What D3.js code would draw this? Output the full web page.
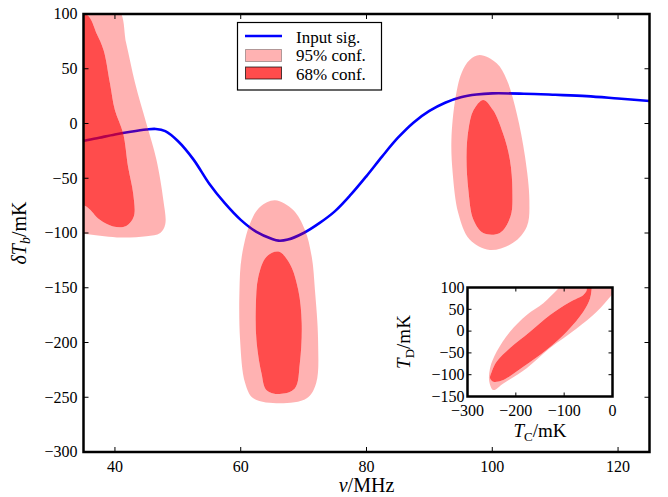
<!DOCTYPE html>
<html>
<head>
<meta charset="utf-8">
<script src="https://cdn.jsdelivr.net/npm/d3@7"></script>
<style>
  body { margin: 0; background: #fff; }
  text { font-family: "Liberation Serif", "DejaVu Serif", serif; fill: #000; }
</style>
</head>
<body>
<div id="chart"></div>
<script>
// input signal
const signalFreq = [33, 35, 37.5, 40, 42.5, 45, 46.5, 48, 50, 52.5, 55, 57.5, 60, 62.5, 65, 66, 67.5, 70, 72.5, 75,
                    77.5, 80, 82.5, 85, 87.5, 90, 92.5, 95, 97.5, 100, 105, 110, 115, 120, 125];
const signalTemp = [-19, -16, -13, -10, -7.5, -5.5, -5, -7, -16, -33, -55, -73, -88, -99, -105.5, -107, -106, -100, -91, -80,
                    -65, -48, -30, -13, 1, 11.5, 19, 24, 26.5, 27.5, 27.2, 26.2, 25, 22.8, 20.5];

// confidence regions in the main panel, [nu, dTb]
const low95 = [[33, 105], [40.4, 105], [41.8, 73], [43.2, 37], [45.0, 0], [46.6, -33], [47.7, -70], [48.0, -92],
               [47.2, -100], [45.0, -103], [40.3, -104], [35.2, -101], [33, -100]];
const low68 = [[33, 100], [35.6, 99], [37.1, 82], [38.2, 67], [39.2, 37], [40.0, 12], [41.3, -9], [42.1, -40],
               [42.9, -64], [43.0, -85], [41.8, -93.5], [39.7, -94], [37.6, -88], [35.5, -76], [33, -70]];
const mid95 = [[65.45, -70], [68.35, -79], [70.2, -97], [71.3, -122], [71.8, -152], [72.3, -198], [72.0, -237],
               [70.5, -251], [66.2, -255.5], [62.0, -251], [60.7, -237], [59.9, -198], [59.8, -152], [60.15, -122],
               [61.5, -91], [63.1, -76]];
const mid68 = [[66.0, -117], [67.8, -128], [69.15, -152], [69.7, -182], [69.4, -219], [68.6, -242], [66.2, -247],
               [64.1, -243.5], [63.3, -228], [62.5, -198], [62.4, -167], [62.8, -140], [64.1, -121.6]];
const high95 = [[98.0, 62.5], [100.7, 55], [102.3, 40], [103.9, 9], [105.2, -30], [105.9, -70], [105.5, -94],
                [103.3, -109], [99.6, -115.5], [96.4, -106], [94.6, -82], [93.7, -45], [93.5, -15], [94.1, 21.5],
                [95.1, 46], [96.4, 58]];
const high68 = [[98.56, 21.5], [100.15, 12], [101.7, -9], [102.8, -33], [103.2, -61], [102.9, -85], [101.2, -100],
                [98.56, -100], [97.0, -88], [96.2, -61], [95.9, -30], [96.2, -6], [97.0, 12]];

// inset: T_C vs T_D
const inset95 = [[-246.6, -135], [-225.9, -120], [-177.5, -85], [-129.3, -39], [-74.1, 6], [-32.7, 44.5], [-1.6, 83],
                 [26, 117], [-94, 117], [-115, 94], [-143.2, 64], [-177.5, 37], [-212.1, -1.4], [-239.6, -47],
                 [-253.4, -85], [-254.9, -116]];
const inset68 = [[-246.6, -116], [-225.9, -112], [-184.5, -82], [-136.1, -43], [-94.7, -1.4], [-60.4, 44.5],
                 [-46.5, 75], [-43.0, 98], [-41.4, 117], [-56.9, 117], [-53.4, 94], [-60.4, 83], [-87.9, 67],
                 [-129.3, 37], [-170.7, -1.4], [-212.1, -39], [-239.6, -70], [-249.9, -93], [-253.4, -108]];

const xTicks = [40, 60, 80, 100, 120];
const yTicks = [-300, -250, -200, -150, -100, -50, 0, 50, 100];
const insetXTicks = [-300, -200, -100, 0];
const insetYTicks = [-150, -100, -50, 0, 50, 100];

const legendItems = ["Input sig.", "95% conf.", "68% conf."];

const W = 668, H = 497;
const fmt = d => (d < 0 ? "\u2212" + Math.abs(d) : "" + d);

let svg = d3.select("#chart").append("svg")
    .attr("width", W)
    .attr("height", H);

let x = d3.scaleLinear().domain([35, 125]).range([83.5, 649.5]);
let y = d3.scaleLinear().domain([-300, 100]).range([452, 14]);

svg.append("clipPath").attr("id", "mainClip")
    .append("rect")
    .attr("x", x(35)).attr("y", y(100))
    .attr("width", x(125) - x(35)).attr("height", y(-300) - y(100));

let plot = svg.append("g").attr("clip-path", "url(#mainClip)");

//Input signal line (under the contours)
let signal = d3.zip(signalFreq, signalTemp);
plot.append("path")
    .datum(signal)
    .attr("fill", "none")
    .attr("stroke", "#0000ff")
    .attr("stroke-width", 2.6)
    .attr("d", d3.line().x(d => x(d[0])).y(d => y(d[1])).curve(d3.curveCatmullRom.alpha(0.5)));

//Confidence regions: outer band with a hole, inner filled
function drawRegion(g, xs, ys, outer, inner)
{
    let shape = d3.line()
        .x(d => xs(d[0]))
        .y(d => ys(d[1]))
        .curve(d3.curveCatmullRomClosed.alpha(0.5));

    g.append("path")
        .attr("d", shape(outer) + shape(inner))
        .attr("fill", "#ff0000")
        .attr("fill-opacity", 0.3)
        .attr("fill-rule", "evenodd");

    g.append("path")
        .attr("d", shape(inner))
        .attr("fill", "#ff0000")
        .attr("fill-opacity", 0.7);
}

drawRegion(plot, x, y, low95, low68);
drawRegion(plot, x, y, mid95, mid68);
drawRegion(plot, x, y, high95, high68);

//Axes with inward ticks on all four sides
function drawFrame(g, xs, ys, xt, yt, opts)
{
    let x0 = xs.range()[0], x1 = xs.range()[1];
    let y0 = ys.range()[1], y1 = ys.range()[0];

    xt.forEach(t => {
        g.append("line").attr("x1", xs(t)).attr("x2", xs(t)).attr("y1", y1).attr("y2", y1 - opts.tick)
            .attr("stroke", "#000").attr("stroke-width", 1);
        g.append("line").attr("x1", xs(t)).attr("x2", xs(t)).attr("y1", y0).attr("y2", y0 + opts.tick)
            .attr("stroke", "#000").attr("stroke-width", 1);
        g.append("text")
            .attr("x", xs(t))
            .attr("y", y1 + opts.xLabelDy)
            .attr("text-anchor", "middle")
            .style("font-size", opts.fs + "px")
            .text(fmt(t));
    });

    yt.forEach(t => {
        g.append("line").attr("x1", x0).attr("x2", x0 + opts.tick).attr("y1", ys(t)).attr("y2", ys(t))
            .attr("stroke", "#000").attr("stroke-width", 1);
        g.append("line").attr("x1", x1).attr("x2", x1 - opts.tick).attr("y1", ys(t)).attr("y2", ys(t))
            .attr("stroke", "#000").attr("stroke-width", 1);
        g.append("text")
            .attr("x", x0 - opts.yLabelDx)
            .attr("y", ys(t) + opts.fs * 0.33)
            .attr("text-anchor", "end")
            .style("font-size", opts.fs + "px")
            .text(fmt(t));
    });

    g.append("rect")
        .attr("x", x0).attr("y", y0)
        .attr("width", x1 - x0).attr("height", y1 - y0)
        .attr("fill", "none")
        .attr("stroke", "#000")
        .attr("stroke-width", 2.5);
}

drawFrame(svg.append("g"), x, y, xTicks, yTicks, {tick: 5, fs: 16, xLabelDy: 20, yLabelDx: 6});

//Axis labels
svg.append("text")
    .attr("x", (x(35) + x(125)) / 2)
    .attr("y", 492)
    .attr("text-anchor", "middle")
    .style("font-size", "20px")
    .call(t => {
        t.append("tspan").style("font-style", "italic").text("\u03bd");
        t.append("tspan").text("/MHz");
    });

svg.append("text")
    .attr("transform", "translate(26," + ((y(100) + y(-300)) / 2) + ") rotate(-90)")
    .attr("text-anchor", "middle")
    .style("font-size", "20px")
    .call(t => {
        t.append("tspan").style("font-style", "italic").text("\u03b4T");
        t.append("tspan").style("font-style", "italic").style("font-size", "14px").attr("dy", 4).text("b");
        t.append("tspan").attr("dy", -4).text("/mK");
    });

//Legend
let legend = svg.append("g");
legend.append("rect")
    .attr("x", 237.5).attr("y", 22.5)
    .attr("width", 144).attr("height", 67.5)
    .attr("fill", "#fff")
    .attr("stroke", "#000")
    .attr("stroke-width", 1.2);

legend.append("line")
    .attr("x1", 245).attr("x2", 282).attr("y1", 36).attr("y2", 36)
    .attr("stroke", "#0000ff").attr("stroke-width", 2.6);

legend.append("rect")
    .attr("x", 245.5).attr("y", 49.5).attr("width", 36).attr("height", 12)
    .attr("fill", "rgba(255,0,0,0.3)").attr("stroke", "rgba(0,0,0,0.3)").attr("stroke-width", 1);

legend.append("rect")
    .attr("x", 245.5).attr("y", 67).attr("width", 36).attr("height", 12)
    .attr("fill", "rgba(255,0,0,0.7)").attr("stroke", "rgba(0,0,0,0.7)").attr("stroke-width", 1);

legendItems.forEach((label, i) => {
    legend.append("text")
        .attr("x", 296)
        .attr("y", 42.5 + i * 18.5)
        .style("font-size", "17px")
        .text(label);
});

//Inset
let ix = d3.scaleLinear().domain([-300, 0]).range([467.5, 612.5]);
let iy = d3.scaleLinear().domain([-150, 100]).range([396.5, 287.5]);

svg.append("rect")
    .attr("x", ix(-300)).attr("y", iy(100))
    .attr("width", ix(0) - ix(-300)).attr("height", iy(-150) - iy(100))
    .attr("fill", "#fff");

svg.append("clipPath").attr("id", "insetClip")
    .append("rect")
    .attr("x", ix(-300)).attr("y", iy(100))
    .attr("width", ix(0) - ix(-300)).attr("height", iy(-150) - iy(100));

let inset = svg.append("g").attr("clip-path", "url(#insetClip)");
drawRegion(inset, ix, iy, inset95, inset68);

drawFrame(svg.append("g"), ix, iy, insetXTicks, insetYTicks, {tick: 4, fs: 16, xLabelDy: 19, yLabelDx: 3});

svg.append("text")
    .attr("x", (ix(-300) + ix(0)) / 2)
    .attr("y", 437)
    .attr("text-anchor", "middle")
    .style("font-size", "19px")
    .call(t => {
        t.append("tspan").style("font-style", "italic").text("T");
        t.append("tspan").style("font-size", "13px").attr("dy", 4).text("C");
        t.append("tspan").attr("dy", -4).text("/mK");
    });

svg.append("text")
    .attr("transform", "translate(410," + ((iy(100) + iy(-150)) / 2) + ") rotate(-90)")
    .attr("text-anchor", "middle")
    .style("font-size", "19px")
    .call(t => {
        t.append("tspan").style("font-style", "italic").text("T");
        t.append("tspan").style("font-size", "13px").attr("dy", 4).text("D");
        t.append("tspan").attr("dy", -4).text("/mK");
    });
</script>
</body>
</html>
